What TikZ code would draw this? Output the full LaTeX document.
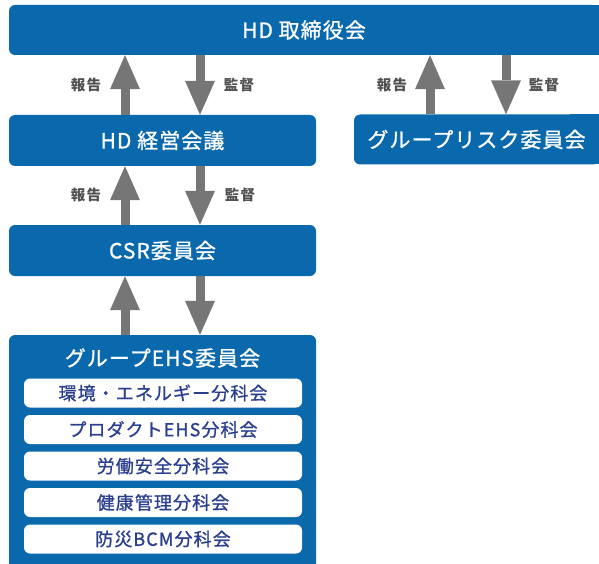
\documentclass[tikz,border=0pt]{standalone}
\usepackage{fontspec}
\usetikzlibrary{arrows.meta}
\newfontfamily\jptitle[LetterSpace=5,FakeBold=1]{Noto Sans CJK JP}
\newfontfamily\jpinner[LetterSpace=6,FakeBold=1]{Noto Sans CJK JP}
\newfontfamily\jplabel[LetterSpace=8]{Noto Sans CJK JP}
\definecolor{boxblue}{HTML}{0A68AC}
\definecolor{arrgray}{HTML}{767676}
\definecolor{labgray}{HTML}{505050}
\definecolor{innernavy}{HTML}{2B3F8F}
\tikzset{
  bluebox/.style={fill=boxblue, rounded corners=6pt, inner sep=0pt, text=white, font=\jptitle\fontsize{21}{21}\selectfont},
  subbox/.style={fill=white, rounded corners=6pt, inner sep=0pt, minimum width=278pt, minimum height=29pt, text=innernavy, font=\jpinner\fontsize{18}{18}\selectfont},
  lab/.style={text=labgray, inner sep=0pt, font=\jplabel\bfseries\fontsize{14.5}{14.5}\selectfont},
  flow/.style={draw=arrgray, line width=9pt, -{Triangle[width=30pt,length=34pt,line width=0pt]}}
}
\begin{document}
\begin{tikzpicture}[x=1pt,y=-1pt]
\useasboundingbox (0,0) rectangle (599,564);
% square right ends of the boxes that run off the page
\fill[boxblue] (570,5) rectangle (605,55);
\fill[boxblue] (570,114.5) rectangle (605,164.5);
% boxes
\node[bluebox, minimum width=590pt, minimum height=50pt] (top) at (304,30) {HD 取締役会};
\node[bluebox, minimum width=245pt, minimum height=50pt] (risk) at (476.5,139.5) {グループリスク委員会};
\node[bluebox, minimum width=307pt, minimum height=51pt] (hdm) at (162.5,140.5) {HD 経営会議};
\node[bluebox, minimum width=307pt, minimum height=51pt] (csr) at (162.5,250.5) {CSR委員会};
\node[bluebox, minimum width=307pt, minimum height=240pt] (ehs) at (162.5,455) {};
\node[text=white, inner sep=0pt, font=\jptitle\fontsize{21}{21}\selectfont] (ehst) at (162.5,358) {グループEHS委員会};
\node[subbox] (s1) at (163,393) {環境・エネルギー分科会};
\node[subbox] (s2) at (163,429.5) {プロダクトEHS分科会};
\node[subbox] (s3) at (163,466) {労働安全分科会};
\node[subbox] (s4) at (163,502.5) {健康管理分科会};
\node[subbox] (s5) at (163,539) {防災BCM分科会};
% arrow columns
\coordinate (cu) at (125,0);
\coordinate (cd) at (200,0);
\coordinate (ru) at (430,0);
\coordinate (rd) at (506,0);
\draw[flow] (hdm.north -| cu) -- (top.south -| cu);
\draw[flow] (top.south -| cd) -- (hdm.north -| cd);
\draw[flow] (risk.north -| ru) -- (top.south -| ru);
\draw[flow] (top.south -| rd) -- (risk.north -| rd);
\draw[flow] (csr.north -| cu) -- (hdm.south -| cu);
\draw[flow] (hdm.south -| cd) -- (csr.north -| cd);
\draw[flow] (ehs.north -| cu) -- (csr.south -| cu);
\draw[flow] (csr.south -| cd) -- (ehs.north -| cd);
% labels
\node[lab] (l1) at (86,85) {報告};
\node[lab] (l2) at (239,85) {監督};
\node[lab] (l3) at (392,85) {報告};
\node[lab] (l4) at (544,85) {監督};
\node[lab] (l5) at (86,195) {報告};
\node[lab] (l6) at (240,195) {監督};
\end{tikzpicture}
\end{document}
